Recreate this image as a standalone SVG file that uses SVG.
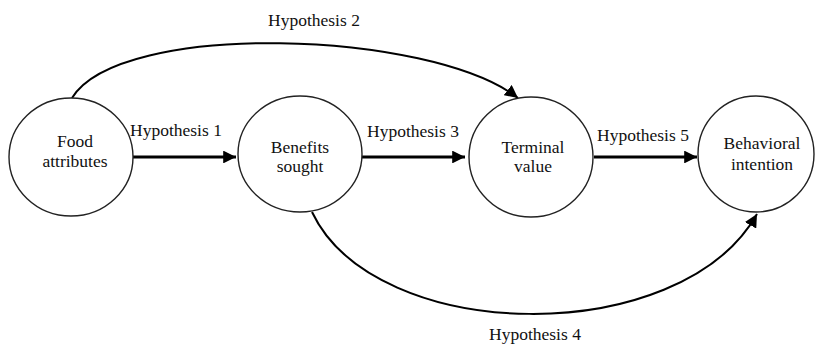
<svg xmlns="http://www.w3.org/2000/svg" width="816" height="344" viewBox="0 0 816 344">
<style>
.node{fill:#fff;stroke:#222;stroke-width:1.4}
.t{font-family:"Liberation Serif","Times New Roman","DejaVu Serif",serif;font-size:17.5px;fill:#111;text-anchor:middle}
.lab{font-family:"Liberation Serif","Times New Roman","DejaVu Serif",serif;font-size:17.5px;fill:#111}
.straight{fill:none;stroke:#000;stroke-width:3.2}
.curve{fill:none;stroke:#000;stroke-width:2}
</style>
<defs>
<marker id="ah" viewBox="0 0 10 10" refX="10" refY="5" markerWidth="4" markerHeight="4" orient="auto" markerUnits="strokeWidth">
<path d="M0,0 L10,5 L0,10 z" fill="#000"/>
</marker>
<marker id="ahc" viewBox="0 0 10 10" refX="10" refY="5" markerWidth="6.5" markerHeight="6.5" orient="auto" markerUnits="strokeWidth">
<path d="M0,0 L10,5 L0,10 z" fill="#000"/>
</marker>
</defs>
<rect width="816" height="344" fill="#fff"/>
<g id="connectors">
<path class="straight" d="M133,157 L236,157" marker-end="url(#ah)"/>
<path class="straight" d="M362,157 L465,157" marker-end="url(#ah)"/>
<path class="straight" d="M594,157 L697,157" marker-end="url(#ah)"/>
<path class="curve" d="M72,98 C120,20 430,30 518,98" marker-end="url(#ahc)"/>
<path class="curve" d="M312,212 C375,345 680,350 757,214" marker-end="url(#ahc)"/>
<text class="lab" x="130" y="136">Hypothesis 1</text>
<text class="lab" x="367" y="137">Hypothesis 3</text>
<text class="lab" x="597" y="141">Hypothesis 5</text>
<text class="lab" x="268" y="26">Hypothesis 2</text>
<text class="lab" x="489" y="340">Hypothesis 4</text>
</g>
<g id="food">
<ellipse class="node" cx="71" cy="157" rx="62" ry="59"/>
<text class="t" x="75" y="147">Food</text>
<text class="t" x="75" y="167">attributes</text>
</g>
<g id="benefits">
<ellipse class="node" cx="300" cy="154" rx="62" ry="58"/>
<text class="t" x="300" y="153">Benefits</text>
<text class="t" x="300" y="172">sought</text>
</g>
<g id="terminal">
<ellipse class="node" cx="531" cy="157" rx="62" ry="60"/>
<text class="t" x="533" y="153">Terminal</text>
<text class="t" x="533" y="172">value</text>
</g>
<g id="behavioral">
<ellipse class="node" cx="756" cy="154" rx="58" ry="58"/>
<text class="t" x="762" y="149">Behavioral</text>
<text class="t" x="762" y="170">intention</text>
</g>
</svg>
